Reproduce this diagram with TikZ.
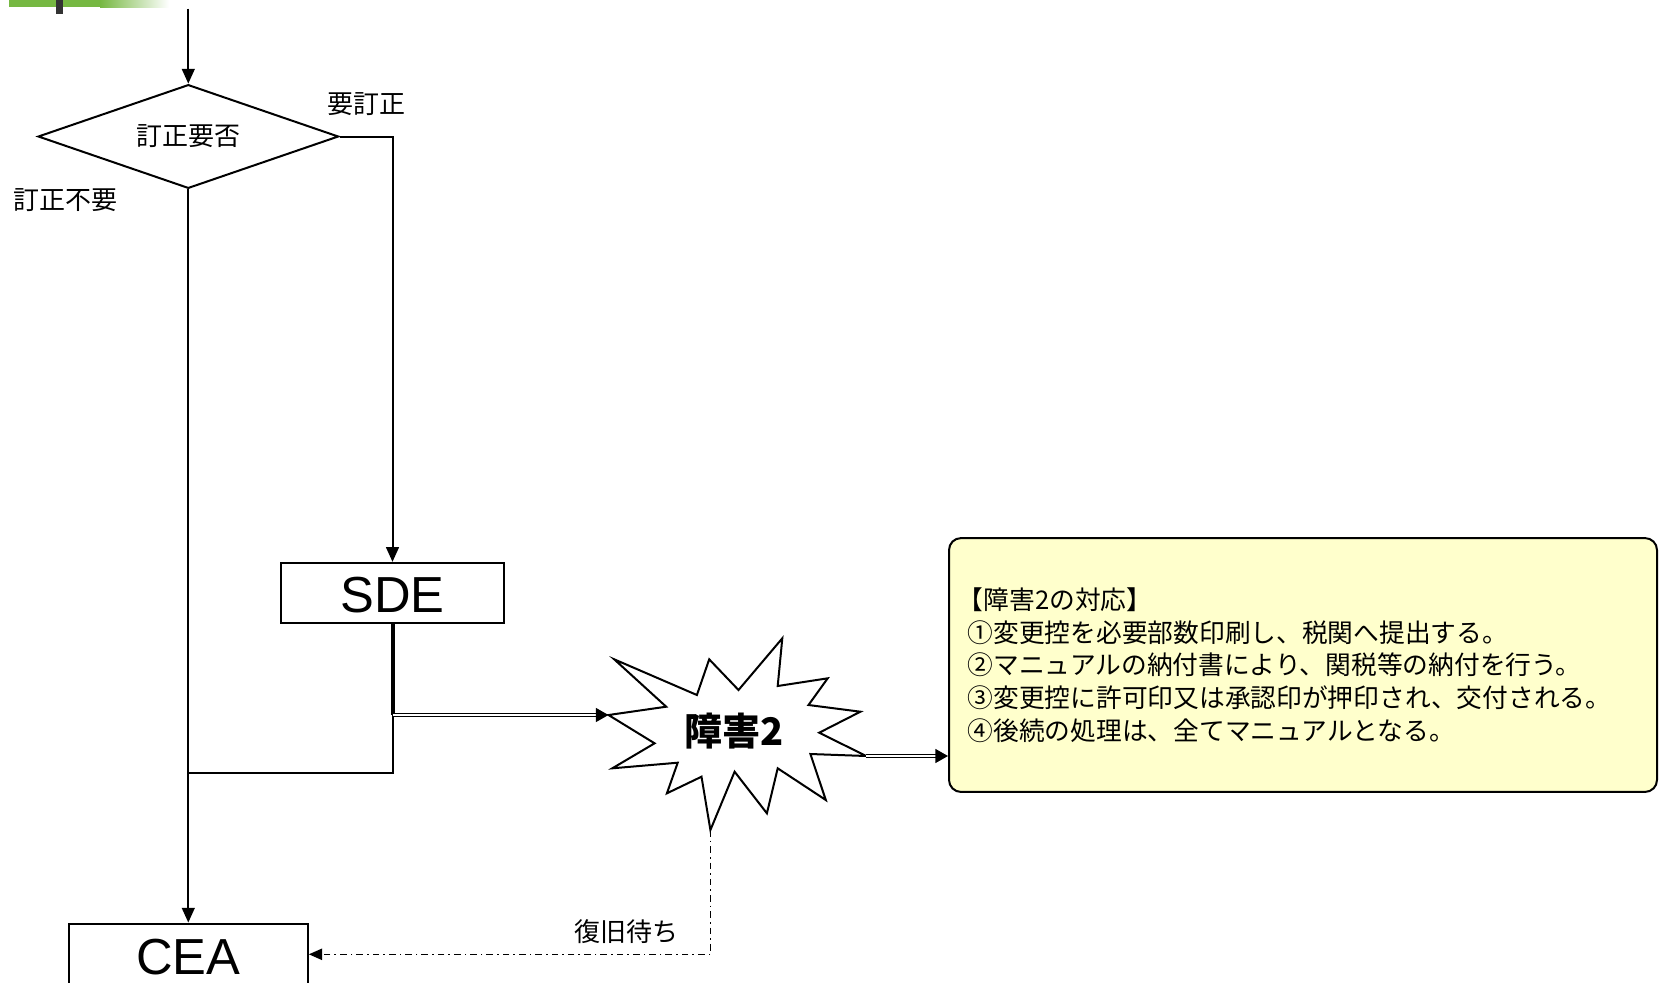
\documentclass[tikz,border=0pt]{standalone}
\usepackage{fontspec}
\newfontfamily\jp{Noto Sans CJK JP}
\newfontfamily\arial{Liberation Sans}
\usetikzlibrary{shapes.geometric,arrows.meta,calc}
\definecolor{gbar}{RGB}{118,184,66}
\definecolor{notefill}{RGB}{255,255,204}
\definecolor{darkbar}{RGB}{51,51,51}
\begin{document}
\begin{tikzpicture}[x=0.75pt,y=-0.75pt,
  ln/.style={line width=1.5pt},
  arr/.style={ln,-{Triangle[length=11pt,width=9.5pt]}},
  dbl/.style={line width=1pt,double=white,double distance=1.5pt,-{Triangle[length=9.5pt,width=10.5pt]}},
  dashdot/.style={line width=1.2pt,dash pattern=on 5pt off 3pt on 1.2pt off 3pt,-{Triangle[length=10pt,width=8.5pt]}},
  lbl/.style={font=\jp\fontsize{19.5pt}{22pt}\selectfont,inner sep=0},
  procbox/.style={draw,line width=1.5pt,rectangle,inner sep=0},
  proctext/.style={inner sep=0,font=\arial\fontsize{38pt}{42pt}\selectfont},
]
\useasboundingbox (0,0) rectangle (1659,982);

% header bar
\fill[gbar] (8.5,0) rectangle (100,7);
\shade[left color=gbar,right color=white] (100,0) rectangle (169,7);
\fill[darkbar] (56,0) rectangle (63,14);

% decision
\node[diamond,draw,ln,minimum width=225.4pt,minimum height=77.8pt,inner sep=0,aspect=2.9,lbl] (dec) at (188.3,136.5) {訂正要否};
\coordinate (top) at (188.3,8.5);
\draw[arr] (top) -- (dec.north);

\node[lbl] (yes) at (366,103.7) {要訂正};
\node[lbl] (no) at (65.6,200) {訂正不要};

% boxes
\node[procbox,minimum width=166.7pt,minimum height=45.2pt] (sde) at (392.5,593) {};
\node[proctext] (sdetxt) at (392.5,595) {SDE};
\node[procbox,minimum width=179.3pt,minimum height=50.9pt] (cea) at (188.3,957.5) {};
\node[proctext] (ceatxt) at (188.3,957.5) {CEA};

\draw[arr] (dec.east) -| (sde.north);
\draw[arr] (dec.south) -- (cea.north);

% junctions
\coordinate (J1) at (392.5,715);
\coordinate (J2) at (392.5,773.4);
\coordinate (J3) at (188.3,773.4);
\draw[line width=3pt] (sde.south) -- (J1);
\draw[ln] (J1) -- (J2) -- (J3);

% starburst
\coordinate (sL) at (608.5,715);
\coordinate (sR) at (866.2,756);
\coordinate (sB) at (710.4,830);
\draw[ln,fill=white,line join=miter] (sL) -- (666.2,706.7) -- (614.2,659.3) -- (696.9,695) -- (709.2,659.3)
  -- (738.5,690) -- (782.3,638.3) -- (777.7,686) -- (827.7,678.3) -- (808.5,705) -- (860.4,711.7)
  -- (819.2,732.7) -- (sR) -- (810.4,754) -- (825.8,800) -- (777.7,768.3) -- (766.9,813.3)
  -- (734.6,771.7) -- (sB) -- (701.5,776.7) -- (666.9,793.3) -- (677.7,762.7) -- (612.3,768.3)
  -- (654.6,743.3) -- cycle;
\node[font=\jp\bfseries\fontsize{28.5pt}{31pt}\selectfont,inner sep=0] (fault) at (734,731) {障害2};

\draw[dbl] (J1) -- (sL);

% note
\node[draw,ln,rounded corners=9pt,fill=notefill,minimum width=531pt,minimum height=190.4pt,
  inner xsep=14pt,inner ysep=0pt,text width=503pt,align=left,
  font=\jp\fontsize{19.3pt}{24.5pt}\selectfont] (note) at (1303,665)
  {\hspace*{-0.38em}【障害2の対応】\\
   ①変更控を必要部数印刷し、税関へ提出する。\\
   ②マニュアルの納付書により、関税等の納付を行う。\\
   ③変更控に許可印又は承認印が押印され、交付される。\\
   ④後続の処理は、全てマニュアルとなる。};

\draw[dbl] (sR) -- (sR -| note.west);

% recovery wait
\coordinate (K) at (709.5,954.3);
\draw[dashdot] (sB) |- (K -| cea.east);
\node[lbl] (wait) at (626,932) {復旧待ち};
\end{tikzpicture}
\end{document}
